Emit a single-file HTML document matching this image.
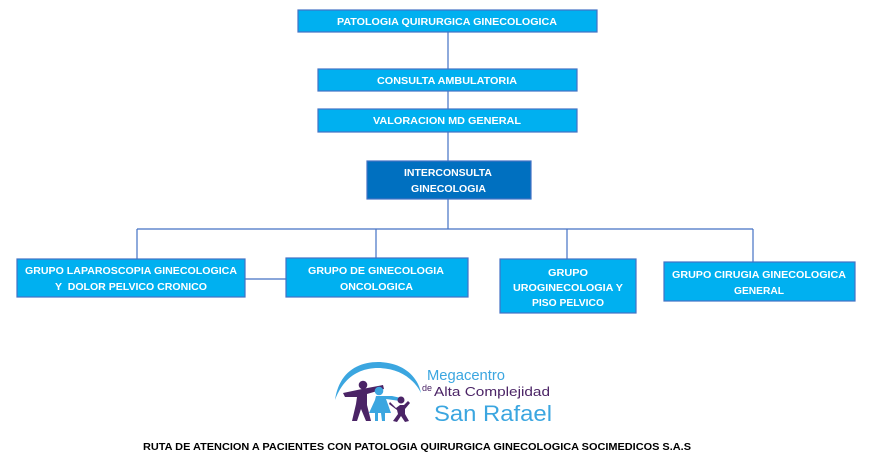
<!DOCTYPE html>
<html><head><meta charset="utf-8"><style>
html,body{margin:0;padding:0;background:#fff;}
svg{display:block;}
text{font-family:"Liberation Sans",sans-serif;}
.b{fill:#00B0F0;stroke:#4472C4;stroke-width:1.2;}
.d{fill:#0070C0;stroke:#4472C4;stroke-width:1.2;}
.t{fill:#fff;font-weight:bold;font-size:10.3px;}
.l{stroke:#4472C4;stroke-width:1.2;fill:none;}
</style></head><body>
<svg width="877" height="457" viewBox="0 0 877 457" xmlns="http://www.w3.org/2000/svg">
<!-- connectors -->
<line class="l" x1="448" y1="32" x2="448" y2="69" stroke="#8FA8D8"/>
<line class="l" x1="448" y1="91" x2="448" y2="109"/>
<line class="l" x1="448" y1="132" x2="448" y2="161"/>
<line class="l" x1="448" y1="199" x2="448" y2="229"/>
<line class="l" x1="137" y1="229" x2="753" y2="229"/>
<line class="l" x1="137" y1="229" x2="137" y2="259"/>
<line class="l" x1="376" y1="229" x2="376" y2="258"/>
<line class="l" x1="567" y1="229" x2="567" y2="259"/>
<line class="l" x1="753" y1="229" x2="753" y2="262"/>
<line class="l" x1="245" y1="279" x2="286" y2="279"/>

<!-- boxes -->
<rect class="b" x="298" y="10" width="299" height="22"/>
<text class="t" x="337" y="25" textLength="220" lengthAdjust="spacingAndGlyphs">PATOLOGIA QUIRURGICA GINECOLOGICA</text>

<rect class="b" x="318" y="69" width="259" height="22"/>
<text class="t" x="377" y="84" textLength="140" lengthAdjust="spacingAndGlyphs">CONSULTA AMBULATORIA</text>

<rect class="b" x="318" y="109" width="259" height="23"/>
<text class="t" x="373" y="124" textLength="148" lengthAdjust="spacingAndGlyphs">VALORACION MD GENERAL</text>

<rect class="d" x="367" y="161" width="164" height="38"/>
<text class="t" x="404" y="176" textLength="88" lengthAdjust="spacingAndGlyphs">INTERCONSULTA</text>
<text class="t" x="411" y="192" textLength="75" lengthAdjust="spacingAndGlyphs">GINECOLOGIA</text>

<rect class="b" x="17" y="259" width="228" height="38"/>
<text class="t" x="25" y="274" textLength="212" lengthAdjust="spacingAndGlyphs">GRUPO LAPAROSCOPIA GINECOLOGICA</text>
<text class="t" x="55" y="290" textLength="152" lengthAdjust="spacingAndGlyphs" xml:space="preserve">Y  DOLOR PELVICO CRONICO</text>

<rect class="b" x="286" y="258" width="182" height="39"/>
<text class="t" x="308" y="274" textLength="136" lengthAdjust="spacingAndGlyphs">GRUPO DE GINECOLOGIA</text>
<text class="t" x="340" y="290" textLength="73" lengthAdjust="spacingAndGlyphs">ONCOLOGICA</text>

<rect class="b" x="500" y="259" width="136" height="54"/>
<text class="t" x="548" y="276" textLength="40" lengthAdjust="spacingAndGlyphs">GRUPO</text>
<text class="t" x="513" y="291" textLength="110" lengthAdjust="spacingAndGlyphs">UROGINECOLOGIA Y</text>
<text class="t" x="532" y="306" textLength="72" lengthAdjust="spacingAndGlyphs">PISO PELVICO</text>

<rect class="b" x="664" y="262" width="191" height="39"/>
<text class="t" x="672" y="278" textLength="174" lengthAdjust="spacingAndGlyphs">GRUPO CIRUGIA GINECOLOGICA</text>
<text class="t" x="734" y="294" textLength="50" lengthAdjust="spacingAndGlyphs">GENERAL</text>

<!-- logo -->
<path d="M335 400 C 339 372, 358 362, 378 362 C 399 362, 417 373, 421 393 C 413 377, 397 368, 378 368 C 359 368, 343 378, 335 400 Z" fill="#3BA6E0"/>
<!-- purple adult -->
<circle cx="363" cy="385" r="4.3" fill="#4B2466"/>
<path d="M343 393 L362 389 L383 385 L384 389 L367 394 L367 405 L371 421 L366 421 L361 409 L357 421 L352 421 L356 404 L357 397 L345 397 Z" fill="#4B2466"/>
<!-- blue adult -->
<circle cx="379" cy="391" r="4.3" fill="#3BA6E0"/>
<path d="M376 396 L392 396 L401 398 L400 401 L386 399 L391 413 L385 413 L385 421 L382 421 L381 413 L378 413 L378 421 L375 421 L375 413 L369 413 L375 400 Z" fill="#3BA6E0"/>
<!-- child -->
<circle cx="401" cy="400" r="3.5" fill="#4B2466"/>
<path d="M390 402 L396 408 L400 405 L404 405 L408 401 L410 403 L405 409 L405 414 L409 421 L405 422 L401 416 L397 422 L393 421 L398 414 L397 410 L389 404 Z" fill="#4B2466"/>

<text x="427" y="380" font-size="15" fill="#3BA6E0" textLength="78" lengthAdjust="spacingAndGlyphs">Megacentro</text>
<text x="422" y="391" font-size="9" fill="#4B2466">de</text>
<text x="434" y="396" font-size="13" fill="#4B2466" textLength="116" lengthAdjust="spacingAndGlyphs">Alta Complejidad</text>
<text x="434" y="421" font-size="22" fill="#3BA6E0" textLength="118" lengthAdjust="spacingAndGlyphs">San Rafael</text>

<!-- footer -->
<text x="143" y="450" font-size="10" font-weight="bold" fill="#000" textLength="548" lengthAdjust="spacingAndGlyphs">RUTA DE ATENCION A PACIENTES CON PATOLOGIA QUIRURGICA GINECOLOGICA SOCIMEDICOS S.A.S</text>
</svg>
</body></html>
